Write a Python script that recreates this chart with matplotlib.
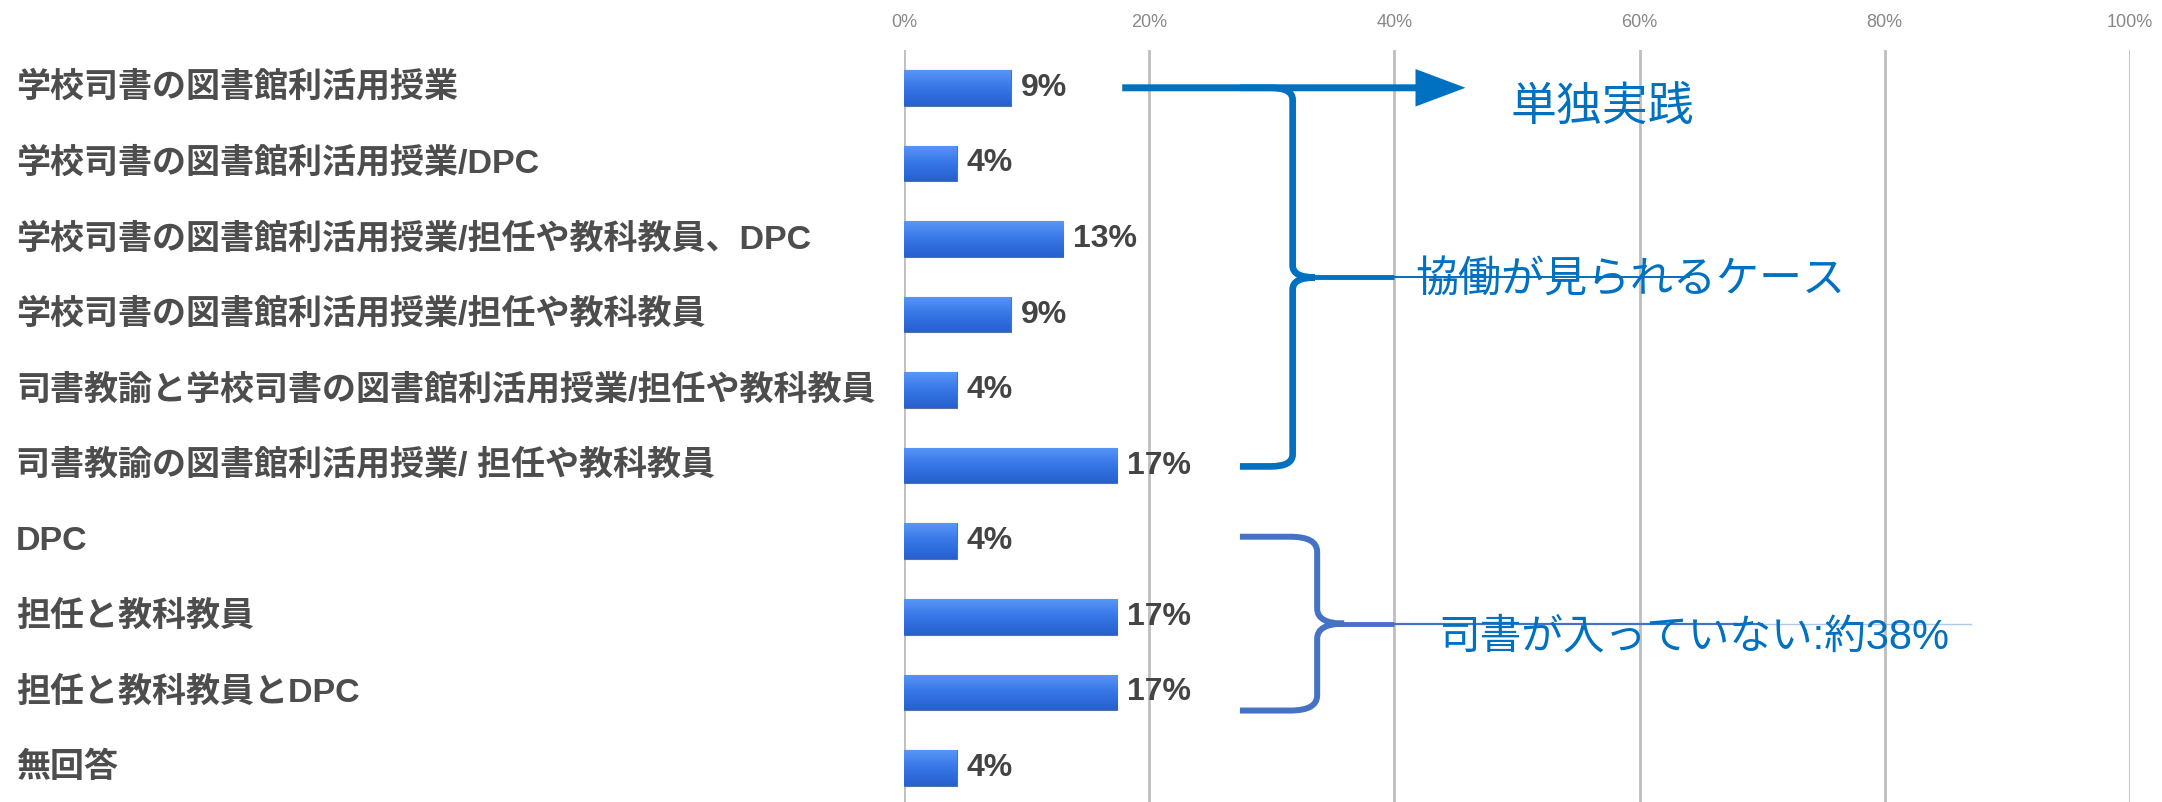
import numpy as np
import matplotlib.pyplot as plt
import matplotlib.transforms as mtransforms
from matplotlib.path import Path
from matplotlib.patches import PathPatch
from matplotlib.colors import LinearSegmentedColormap

categories = [
    "学校司書の図書館利活用授業",
    "学校司書の図書館利活用授業/DPC",
    "学校司書の図書館利活用授業/担任や教科教員、DPC",
    "学校司書の図書館利活用授業/担任や教科教員",
    "司書教諭と学校司書の図書館利活用授業/担任や教科教員",
    "司書教諭の図書館利活用授業/ 担任や教科教員",
    "DPC",
    "担任と教科教員",
    "担任と教科教員とDPC",
    "無回答",
]
percents = [8.7, 4.3, 13.0, 8.7, 4.3, 17.4, 4.3, 17.4, 17.4, 4.3]
xticks = [0, 20, 40, 60, 80, 100]

BLUE = "#0070C0"
BLUE2 = "#4472C4"
JP = ["Liberation Sans", "Noto Sans CJK JP"]

W, H = 2162, 802
fig = plt.figure(figsize=(W / 100, H / 100), dpi=100)
ax = fig.add_axes([904 / W, 0, (2130 - 904) / W, 1 - 50 / H])

rows = np.arange(len(categories))
bar_h = 0.47
bars = ax.barh(rows, percents, height=bar_h, color="#3a7be8",
               edgecolor="#56729e", linewidth=0.8, zorder=3)

# vertical gradient on each bar
grad = LinearSegmentedColormap.from_list("bar", ["#5896f6", "#3676e6", "#2660cc"])
g = np.linspace(0, 1, 64).reshape(-1, 1)
for b in bars:
    x0, y0 = b.get_x(), b.get_y()
    im = ax.imshow(g, cmap=grad, aspect="auto", zorder=3.5,
                   extent=[x0, x0 + b.get_width(), y0 + b.get_height(), y0])
    im.set_clip_path(b)

ax.set_xlim(0, 100)
ax.set_ylim(9.45, -0.5)

ax.set_xticks(xticks)
ax.set_xticklabels([f"{t}%" for t in xticks], fontsize=13, color="#888888",
                   family="Liberation Sans")
ax.xaxis.tick_top()
ax.tick_params(axis="x", length=0, pad=14)
ax.set_yticks([])
ax.grid(axis="x", color="#bebebe", linewidth=2, zorder=0)
for s in ax.spines.values():
    s.set_visible(False)

# category names on the left edge of the figure
trans = mtransforms.blended_transform_factory(fig.transFigure, ax.transData)
for i, name in enumerate(categories):
    ax.text(16 / W, i, name, transform=trans, ha="left", va="center",
            fontsize=24.5, fontweight="bold", color="#4d4d4d", family=JP,
            clip_on=False)

# value labels
for i, v in enumerate(percents):
    ax.text(v + 0.8, i, f"{v:.0f}%", ha="left", va="center", fontsize=23,
            fontweight="bold", color="#444444", family="Liberation Sans",
            zorder=5)

# arrow for the single-practice row
ax.annotate("", xy=(45.8, 0), xytext=(17.8, 0),
            arrowprops=dict(width=5, headwidth=27, headlength=36, shrink=0,
                            color=BLUE, linewidth=0), zorder=6)
ax.text(49.5, 0.27, "単独実践", ha="left", va="center", fontsize=33,
        color=BLUE, family=JP, zorder=6)


def brace(xl, xv, yt, yb, ytip, rx, ry, color, lw):
    verts = [(xl, yt), (xv - rx, yt), (xv, yt), (xv, yt + ry),
             (xv, ytip - ry), (xv, ytip), (xv + rx, ytip),
             (xv + rx, ytip), (xv, ytip), (xv, ytip + ry),
             (xv, yb - ry), (xv, yb), (xv - rx, yb), (xl, yb)]
    codes = [Path.MOVETO, Path.LINETO, Path.CURVE3, Path.CURVE3,
             Path.LINETO, Path.CURVE3, Path.CURVE3,
             Path.MOVETO, Path.CURVE3, Path.CURVE3,
             Path.LINETO, Path.CURVE3, Path.CURVE3, Path.LINETO]
    ax.add_patch(PathPatch(Path(verts, codes), facecolor="none",
                           edgecolor=color, linewidth=lw, zorder=6,
                           clip_on=False, capstyle="butt"))


# collaboration cases: rows 0-5
brace(27.4, 31.7, 0.0, 5.01, 2.51, 1.8, 0.16, BLUE, 4.8)
ax.plot([33.2, 40.0], [2.51, 2.51], color=BLUE, lw=3.5, zorder=6,
        solid_capstyle="butt")
ax.plot([40.0, 64.0], [2.51, 2.51], color=BLUE, lw=1.4, zorder=6)
ax.text(41.7, 2.56, "協働が見られるケース", ha="left", va="center",
        fontsize=31, color=BLUE, family=JP, zorder=7)

# no librarian involved: rows 6-8
brace(27.4, 33.7, 5.94, 8.24, 7.09, 2.2, 0.2, BLUE2, 4.3)
ax.plot([35.6, 40.0], [7.09, 7.09], color=BLUE2, lw=3.5, zorder=6,
        solid_capstyle="butt")
ax.plot([40.0, 70.0], [7.09, 7.09], color=BLUE2, lw=1.6, zorder=6)
ax.plot([70.0, 87.0], [7.09, 7.09], color=BLUE2, lw=1.0, alpha=0.4, zorder=6)
ax.text(43.6, 7.27, "司書が入っていない:約38%", ha="left", va="center",
        fontsize=30, color=BLUE, family=JP, zorder=7)

fig.savefig("out.png", dpi=100)
